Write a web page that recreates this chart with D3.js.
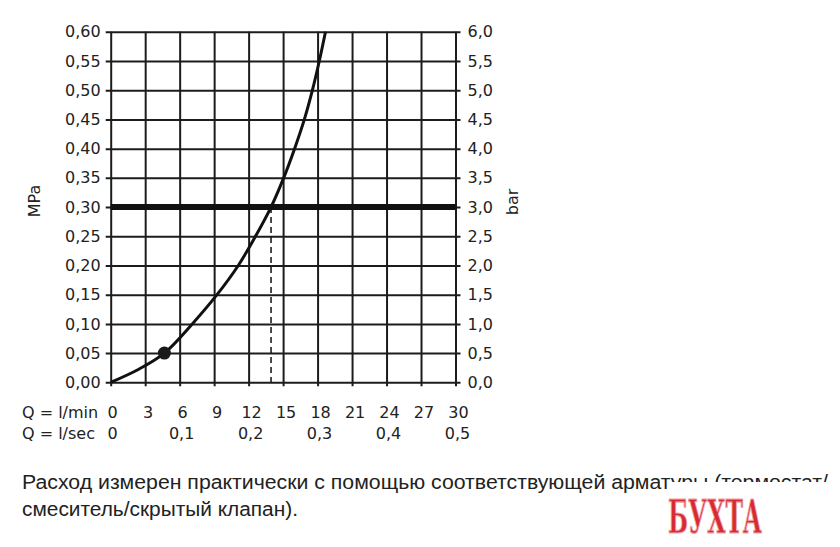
<!DOCTYPE html>
<html>
<head>
<meta charset="utf-8">
<script src="https://cdn.jsdelivr.net/npm/d3@7"></script>
<style>
  body { margin: 0; background: #fff; }
  svg { display: block; }
  .lab { font-family: "DejaVu Sans", sans-serif; font-size: 16px; fill: #222; }
  .cap { font-family: "Liberation Sans", Arial, sans-serif; font-size: 20px; fill: #222; }
</style>
</head>
<body>
<div id="chart"></div>
<script>
// pressure curve (flow l/min vs MPa)
var flowLpm = [0, 2.4, 4.67, 7.1, 9.25, 11.1, 12.6, 13.95, 15.05, 16.0, 16.85, 17.55, 18.15, 18.69];
var pressMPa = [0, 0.022, 0.05, 0.10, 0.15, 0.20, 0.25, 0.30, 0.35, 0.40, 0.45, 0.50, 0.55, 0.60];
var markerPoint = [4.67, 0.05];
var refPressure = 0.30;
var refFlow = 13.95;

var mpaTicks = [0, 0.05, 0.10, 0.15, 0.20, 0.25, 0.30, 0.35, 0.40, 0.45, 0.50, 0.55, 0.60];
var barTicks = [0, 0.5, 1, 1.5, 2, 2.5, 3, 3.5, 4, 4.5, 5, 5.5, 6];
var lpmTicks = [0, 3, 6, 9, 12, 15, 18, 21, 24, 27, 30];
var lpsTicks = [0, 0.1, 0.2, 0.3, 0.4, 0.5];

var captionLines = [
  "Расход измерен практически с помощью соответствующей арматуры (термостат/",
  "смеситель/скрытый клапан)."
];
var captionWidths = [806, 276];

var W = 840, H = 547;
var pLeft = 110.7, pRight = 455.5, pTop = 31.8, pBottom = 382.3;

var svg = d3.select("#chart").append("svg").attr("width", W).attr("height", H);

var x = d3.scaleLinear().domain([0, 30]).range([pLeft, pRight]);
var xSec = d3.scaleLinear().domain([0, 0.5]).range([pLeft, pRight]);
var y = d3.scaleLinear().domain([0, 0.6]).range([pBottom, pTop]);
var yBar = d3.scaleLinear().domain([0, 6]).range([pBottom, pTop]);

var comma = function(n, d) { return n.toFixed(d).replace(".", ","); };

// horizontal grid + left labels
var gl = svg.append("g").attr("transform", "translate(" + (pLeft - 5) + ",0)")
  .call(d3.axisLeft(y).tickValues(mpaTicks).tickSize(-(pRight - pLeft + 10)).tickPadding(5)
    .tickFormat(function(d) { return comma(d, 2); }));
gl.select(".domain").remove();
gl.selectAll("line").attr("stroke", "#1c1c1c").attr("stroke-width", 2);
gl.selectAll("text").attr("class", "lab").attr("font-size", null).attr("font-family", null).attr("fill", null);

// right labels
var gr = svg.append("g").attr("transform", "translate(" + pRight + ",0)")
  .call(d3.axisRight(yBar).tickValues(barTicks).tickSize(0).tickPadding(12)
    .tickFormat(function(d) { return comma(d, 1); }));
gr.select(".domain").remove();
gr.selectAll("text").attr("class", "lab").attr("font-size", null).attr("font-family", null).attr("fill", null);

// vertical grid
var gv = svg.append("g").attr("transform", "translate(0," + (pBottom + 4) + ")")
  .call(d3.axisBottom(x).tickValues(lpmTicks).tickSize(-(pBottom - pTop + 4)).tickFormat(""));
gv.select(".domain").remove();
gv.selectAll("line").attr("stroke", "#1c1c1c").attr("stroke-width", 2);

// l/min row
svg.append("text").attr("class", "lab").attr("x", 22).attr("y", 418).text("Q = l/min");
svg.append("g").selectAll("text").data(lpmTicks).enter().append("text")
  .attr("class", "lab").attr("text-anchor", "middle")
  .attr("x", function(d) { return x(d) + (d === 0 ? 2 : 3); }).attr("y", 418)
  .text(function(d) { return d; });

// l/sec row
svg.append("text").attr("class", "lab").attr("x", 22).attr("y", 439).text("Q = l/sec");
svg.append("g").selectAll("text").data(lpsTicks).enter().append("text")
  .attr("class", "lab").attr("text-anchor", "middle")
  .attr("x", function(d) { return xSec(d) + 2; }).attr("y", 439)
  .text(function(d) { return d === 0 ? "0" : comma(d, 1); });

// axis titles
svg.append("text").attr("class", "lab").attr("text-anchor", "middle")
  .attr("transform", "translate(40,201) rotate(-90)").text("MPa");
svg.append("text").attr("class", "lab").attr("text-anchor", "middle")
  .attr("transform", "translate(518,202) rotate(-90)").text("bar");

// reference pressure line
svg.append("line").attr("x1", pLeft).attr("x2", pRight)
  .attr("y1", y(refPressure)).attr("y2", y(refPressure))
  .attr("stroke", "#111").attr("stroke-width", 6);

// dashed drop line
svg.append("line").attr("x1", x(refFlow)).attr("x2", x(refFlow))
  .attr("y1", y(refPressure)).attr("y2", pBottom)
  .attr("stroke", "#111").attr("stroke-width", 1.5).attr("stroke-dasharray", "6,4");

// curve
var pts = flowLpm.map(function(q, i) { return [q, pressMPa[i]]; });
svg.append("path").datum(pts)
  .attr("d", d3.line().x(function(d) { return x(d[0]); }).y(function(d) { return y(d[1]); })
    .curve(d3.curveCatmullRom.alpha(0.5)))
  .attr("fill", "none").attr("stroke", "#111").attr("stroke-width", 3);

svg.append("circle").attr("cx", x(markerPoint[0])).attr("cy", y(markerPoint[1]))
  .attr("r", 6.5).attr("fill", "#1a1a1a");

// caption
svg.append("g").selectAll("text").data(captionLines).enter().append("text")
  .attr("class", "cap").attr("x", 22).attr("y", function(d, i) { return 489 + i * 26.5; })
  .attr("textLength", function(d, i) { return captionWidths[i]; })
  .attr("lengthAdjust", "spacingAndGlyphs")
  .text(function(d) { return d; });

// watermark
var wm = svg.append("g");
wm.append("rect").attr("x", 668).attr("y", 482).attr("width", 168).attr("height", 16).attr("fill", "#fff");
wm.append("text").attr("x", 715).attr("y", 533).attr("text-anchor", "middle")
  .attr("font-family", "DejaVu Serif Condensed, DejaVu Serif, serif").attr("font-weight", "bold")
  .attr("font-size", 46).attr("textLength", 94).attr("lengthAdjust", "spacingAndGlyphs")
  .attr("fill", "#d62b32").attr("stroke", "#f0a9ad").attr("stroke-width", 1.2)
  .text("БУХТА");
</script>
</body>
</html>
